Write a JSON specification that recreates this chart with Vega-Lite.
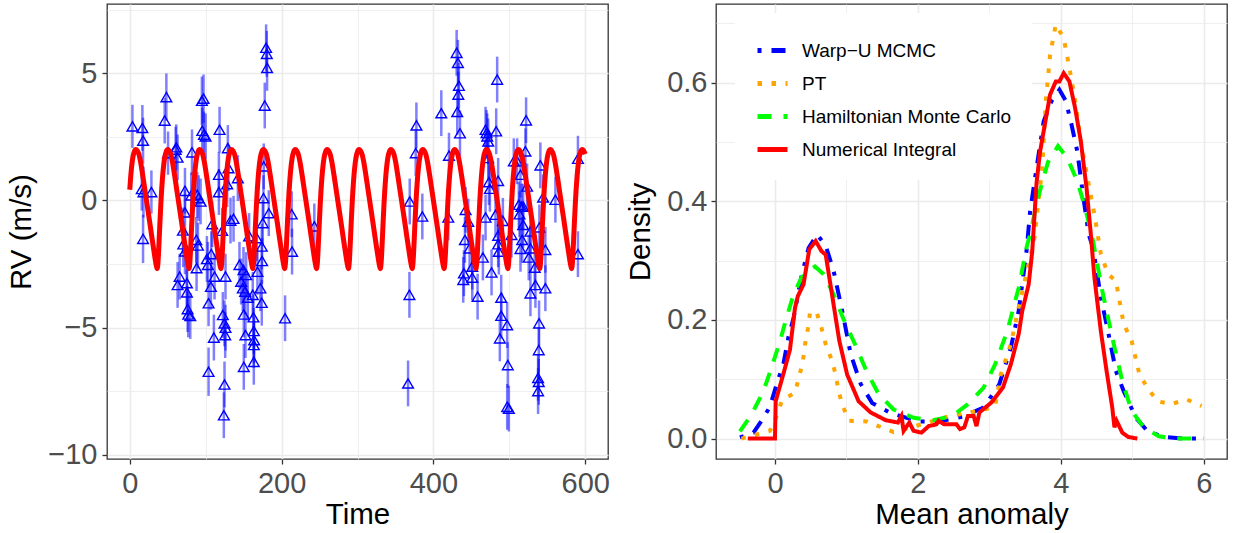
{
  "$schema": "https://vega.github.io/schema/vega-lite/v6.json",
  "padding": {"left": 6, "top": 3, "right": 5, "bottom": 3},
  "bounds": "flush",
  "spacing": 108,
  "config": {
    "font": "Liberation Sans",
    "view": {"stroke": "#333333", "strokeWidth": 1.3},
    "axis": {
      "domain": false,
      "grid": true,
      "gridColor": "#EBEBEB",
      "labelFont": "Liberation Sans",
      "titleFont": "Liberation Sans",
      "labelFontSize": 29,
      "titleFontSize": 29.5,
      "labelColor": "#4D4D4D",
      "titleColor": "#000000",
      "titleFontWeight": "normal",
      "tickColor": "#333333",
      "tickSize": 5,
      "tickWidth": 1.3,
      "labelOverlap": false,
      "labelFlush": false
    }
  },
  "datasets": {
    "pts": [
      {"t":3.5,"rv":2.91,"e":0.85},{"t":16.6,"rv":2.85,"e":0.9},{"t":17.5,"rv":2.35,"e":0.9},{"t":15.8,"rv":0.45,"e":0.85},
      {"t":18,"rv":0.33,"e":1.0},{"t":28.5,"rv":0.33,"e":0.85},{"t":17.5,"rv":-1.51,"e":0.95},{"t":48.2,"rv":4.06,"e":0.93},
      {"t":46,"rv":3.14,"e":0.9},{"t":50.4,"rv":1.86,"e":0.85},{"t":61.3,"rv":2.09,"e":0.9},{"t":60.4,"rv":2.0,"e":0.9},
      {"t":63,"rv":1.69,"e":0.9},{"t":82,"rv":1.89,"e":0.9},{"t":72.7,"rv":0.38,"e":0.9},{"t":72.7,"rv":-0.47,"e":0.9},
      {"t":70,"rv":-1.18,"e":0.9},{"t":70.5,"rv":-1.72,"e":0.9},{"t":72.7,"rv":-2.0,"e":0.9},{"t":65.7,"rv":-2.99,"e":0.9},
      {"t":63,"rv":-3.32,"e":0.9},{"t":75.3,"rv":-3.25,"e":0.9},{"t":75.3,"rv":-3.61,"e":0.9},{"t":76.2,"rv":-4.27,"e":0.9},
      {"t":77,"rv":-4.48,"e":0.9},{"t":79.7,"rv":-4.54,"e":0.9},{"t":81,"rv":0.2,"e":0.9},{"t":88.9,"rv":0.22,"e":0.9},
      {"t":90.7,"rv":0.09,"e":0.9},{"t":93.3,"rv":-0.04,"e":0.9},{"t":87.6,"rv":-1.55,"e":0.9},{"t":89.8,"rv":-1.77,"e":0.9},
      {"t":88,"rv":-2.66,"e":0.9},{"t":95,"rv":3.92,"e":0.95},{"t":97.2,"rv":4.0,"e":0.95},{"t":95.5,"rv":2.74,"e":0.9},
      {"t":97.7,"rv":2.59,"e":0.9},{"t":99.9,"rv":2.52,"e":0.9},{"t":118.3,"rv":2.78,"e":0.9},{"t":129.2,"rv":2.06,"e":0.9},
      {"t":130.1,"rv":1.27,"e":0.9},{"t":128.3,"rv":0.64,"e":0.9},{"t":117.4,"rv":1.01,"e":0.9},{"t":117.4,"rv":0.33,"e":0.9},
      {"t":142.4,"rv":0.88,"e":0.9},{"t":108.6,"rv":-0.93,"e":0.9},{"t":121.8,"rv":-1.19,"e":0.9},{"t":132.7,"rv":-0.79,"e":0.9},
      {"t":136.7,"rv":-0.72,"e":0.9},{"t":101.6,"rv":-2.3,"e":0.9},{"t":102.9,"rv":-2.53,"e":0.9},{"t":107.3,"rv":-2.11,"e":0.9},
      {"t":111.7,"rv":-2.99,"e":0.9},{"t":106.9,"rv":-3.39,"e":0.9},{"t":103.8,"rv":-4.04,"e":0.9},{"t":126.1,"rv":-2.99,"e":0.9},
      {"t":122.6,"rv":-4.5,"e":0.9},{"t":124.8,"rv":-4.83,"e":0.9},{"t":126.1,"rv":-5.0,"e":0.9},{"t":125.7,"rv":-5.29,"e":0.9},
      {"t":110.8,"rv":-5.39,"e":0.9},{"t":103.8,"rv":-6.73,"e":0.95},{"t":124.8,"rv":-7.23,"e":0.9},{"t":123.9,"rv":-8.44,"e":0.9},
      {"t":157.2,"rv":-1.4,"e":0.9},{"t":167.3,"rv":-1.48,"e":0.9},{"t":173.9,"rv":-1.81,"e":0.9},{"t":174.3,"rv":-2.38,"e":0.9},
      {"t":144.5,"rv":-2.53,"e":0.9},{"t":149.8,"rv":-2.73,"e":0.9},{"t":153.3,"rv":-2.93,"e":0.9},{"t":146.7,"rv":-3.19,"e":0.9},
      {"t":148.9,"rv":-3.45,"e":0.9},{"t":152,"rv":-3.58,"e":0.9},{"t":155.5,"rv":-3.82,"e":0.9},{"t":162,"rv":-3.71,"e":0.9},
      {"t":168.2,"rv":-2.8,"e":0.9},{"t":172.1,"rv":-3.45,"e":0.9},{"t":173.9,"rv":-4.02,"e":0.9},{"t":150.2,"rv":-4.48,"e":0.9},
      {"t":162.9,"rv":-4.59,"e":0.9},{"t":152.4,"rv":-5.29,"e":0.9},{"t":163.4,"rv":-5.13,"e":0.9},{"t":163.8,"rv":-5.49,"e":0.9},
      {"t":163.4,"rv":-5.68,"e":0.9},{"t":163.4,"rv":-6.34,"e":0.9},{"t":150.2,"rv":-6.54,"e":0.9},{"t":179.6,"rv":6.0,"e":0.92},
      {"t":180.5,"rv":5.76,"e":0.9},{"t":180.9,"rv":5.21,"e":0.9},{"t":177.8,"rv":3.73,"e":0.9},{"t":176.5,"rv":1.34,"e":0.9},
      {"t":176.1,"rv":0.09,"e":0.9},{"t":183.1,"rv":-0.5,"e":0.9},{"t":175.2,"rv":-0.89,"e":0.9},{"t":213.3,"rv":-0.54,"e":0.9},
      {"t":213.8,"rv":-2.01,"e":0.9},{"t":204.6,"rv":-4.63,"e":0.9},{"t":243.1,"rv":-1.02,"e":0.9},
      {"t":368.8,"rv":-0.04,"e":0.9},{"t":385.4,"rv":-0.63,"e":0.9},{"t":376.7,"rv":1.86,"e":0.9},{"t":377.6,"rv":2.95,"e":0.9},
      {"t":368.4,"rv":-3.71,"e":0.9},{"t":366.6,"rv":-7.19,"e":0.9},{"t":410.4,"rv":3.43,"e":0.9},{"t":420.5,"rv":1.76,"e":0.9},
      {"t":419.6,"rv":-0.67,"e":0.9},{"t":430.6,"rv":5.8,"e":0.9},{"t":432.3,"rv":5.41,"e":0.9},{"t":433.6,"rv":4.51,"e":0.9},
      {"t":432.8,"rv":4.16,"e":0.9},{"t":431.4,"rv":3.48,"e":0.9},{"t":435,"rv":2.64,"e":0.9},{"t":442.4,"rv":-0.37,"e":0.9},
      {"t":445.9,"rv":-0.83,"e":0.9},{"t":441.5,"rv":-1.55,"e":0.9},{"t":447.7,"rv":-1.88,"e":0.9},{"t":451.2,"rv":-2.6,"e":0.9},
      {"t":440.2,"rv":-2.86,"e":0.9},{"t":439.3,"rv":-3.12,"e":0.9},{"t":451.2,"rv":-3.03,"e":0.9},{"t":458.2,"rv":-3.78,"e":0.9},
      {"t":465.2,"rv":-2.24,"e":0.9},{"t":468.7,"rv":-0.67,"e":0.9},{"t":476.6,"rv":-2.83,"e":0.9},{"t":468.7,"rv":2.78,"e":0.9},
      {"t":470,"rv":2.65,"e":0.9},{"t":470.9,"rv":2.52,"e":0.9},{"t":472.2,"rv":2.32,"e":0.9},{"t":482.7,"rv":2.72,"e":0.9},
      {"t":484,"rv":4.75,"e":0.9},{"t":472.2,"rv":1.67,"e":0.9},{"t":473.1,"rv":0.72,"e":0.9},{"t":474.4,"rv":0.46,"e":0.9},
      {"t":485.3,"rv":0.77,"e":0.9},{"t":481.8,"rv":-0.56,"e":0.9},{"t":491.5,"rv":-0.8,"e":0.9},{"t":485.3,"rv":-1.38,"e":0.9},
      {"t":485.3,"rv":-1.72,"e":0.9},{"t":486.2,"rv":-2.01,"e":0.9},{"t":502.9,"rv":-1.35,"e":0.9},{"t":489.3,"rv":-3.82,"e":0.9},
      {"t":489.3,"rv":-4.53,"e":0.9},{"t":497.2,"rv":-4.9,"e":0.9},{"t":487.5,"rv":-5.42,"e":0.9},{"t":498,"rv":-6.47,"e":0.9},
      {"t":497.2,"rv":-8.11,"e":0.9},{"t":499.4,"rv":-8.18,"e":0.9},{"t":505.9,"rv":1.54,"e":0.9},{"t":510.3,"rv":1.54,"e":0.9},
      {"t":521.2,"rv":1.93,"e":0.9},{"t":522.1,"rv":3.15,"e":0.9},{"t":514.7,"rv":1.01,"e":0.9},{"t":523.4,"rv":0.55,"e":0.9},
      {"t":512.5,"rv":-0.17,"e":0.9},{"t":516,"rv":-0.24,"e":0.9},{"t":518.2,"rv":-0.24,"e":0.9},{"t":513.4,"rv":-0.54,"e":0.9},
      {"t":518.2,"rv":-0.96,"e":0.9},{"t":516.9,"rv":-1.55,"e":0.9},{"t":514.7,"rv":-1.9,"e":0.9},{"t":527.8,"rv":-1.22,"e":0.9},
      {"t":527.8,"rv":-1.88,"e":0.9},{"t":525.6,"rv":-2.24,"e":0.9},{"t":533.5,"rv":-2.64,"e":0.9},{"t":534.4,"rv":-3.32,"e":0.9},
      {"t":527.8,"rv":-3.65,"e":0.9},{"t":539.6,"rv":-1.06,"e":0.9},{"t":540.9,"rv":1.38,"e":0.9},{"t":544.5,"rv":0.12,"e":0.9},
      {"t":547.5,"rv":-1.94,"e":0.9},{"t":547.5,"rv":-3.45,"e":0.9},{"t":539.2,"rv":-4.83,"e":0.9},{"t":538.8,"rv":-5.88,"e":0.9},
      {"t":537.9,"rv":-6.97,"e":0.9},{"t":538.8,"rv":-7.13,"e":0.9},{"t":537.9,"rv":-7.49,"e":0.9},{"t":560.7,"rv":0.03,"e":0.9},
      {"t":590.4,"rv":1.64,"e":0.9},{"t":590.4,"rv":-2.11,"e":0.9}
    ],
    "curve": [
      {"t":0,"rv":0.42},{"t":1,"rv":0.85},{"t":2,"rv":1.2},{"t":4,"rv":1.68},{"t":6,"rv":1.92},
      {"t":8,"rv":2.0},{"t":10,"rv":1.95},{"t":12,"rv":1.82},{"t":14,"rv":1.55},{"t":17,"rv":1.0},{"t":20,"rv":0.4},{"t":23,"rv":-0.2},{"t":26,"rv":-0.8},{"t":29,"rv":-1.42},{"t":32,"rv":-2.02},{"t":34,"rv":-2.4},{"t":35,"rv":-2.57},{"t":36,"rv":-2.68},{"t":37,"rv":-2.5},{"t":38,"rv":-2.0},{"t":39,"rv":-1.35},{"t":40,"rv":-0.7},{"t":41,"rv":-0.1},{"t":42,"rv":0.42},{"t":43,"rv":0.85},{"t":44,"rv":1.2},{"t":46,"rv":1.68},{"t":48,"rv":1.92},
      {"t":50,"rv":2.0},{"t":52,"rv":1.95},{"t":54,"rv":1.82},{"t":56,"rv":1.55},{"t":59,"rv":1.0},{"t":62,"rv":0.4},{"t":65,"rv":-0.2},{"t":68,"rv":-0.8},{"t":71,"rv":-1.42},{"t":74,"rv":-2.02},{"t":76,"rv":-2.4},{"t":77,"rv":-2.57},{"t":78,"rv":-2.68},{"t":79,"rv":-2.5},{"t":80,"rv":-2.0},{"t":81,"rv":-1.35},{"t":82,"rv":-0.7},{"t":83,"rv":-0.1},{"t":84,"rv":0.42},{"t":85,"rv":0.85},{"t":86,"rv":1.2},{"t":88,"rv":1.68},{"t":90,"rv":1.92},
      {"t":92,"rv":2.0},{"t":94,"rv":1.95},{"t":96,"rv":1.82},{"t":98,"rv":1.55},{"t":101,"rv":1.0},{"t":104,"rv":0.4},{"t":107,"rv":-0.2},{"t":110,"rv":-0.8},{"t":113,"rv":-1.42},{"t":116,"rv":-2.02},{"t":118,"rv":-2.4},{"t":119,"rv":-2.57},{"t":120,"rv":-2.68},{"t":121,"rv":-2.5},{"t":122,"rv":-2.0},{"t":123,"rv":-1.35},{"t":124,"rv":-0.7},{"t":125,"rv":-0.1},{"t":126,"rv":0.42},{"t":127,"rv":0.85},{"t":128,"rv":1.2},{"t":130,"rv":1.68},{"t":132,"rv":1.92},
      {"t":134,"rv":2.0},{"t":136,"rv":1.95},{"t":138,"rv":1.82},{"t":140,"rv":1.55},{"t":143,"rv":1.0},{"t":146,"rv":0.4},{"t":149,"rv":-0.2},{"t":152,"rv":-0.8},{"t":155,"rv":-1.42},{"t":158,"rv":-2.02},{"t":160,"rv":-2.4},{"t":161,"rv":-2.57},{"t":162,"rv":-2.68},{"t":163,"rv":-2.5},{"t":164,"rv":-2.0},{"t":165,"rv":-1.35},{"t":166,"rv":-0.7},{"t":167,"rv":-0.1},{"t":168,"rv":0.42},{"t":169,"rv":0.85},{"t":170,"rv":1.2},{"t":172,"rv":1.68},{"t":174,"rv":1.92},
      {"t":176,"rv":2.0},{"t":178,"rv":1.95},{"t":180,"rv":1.82},{"t":182,"rv":1.55},{"t":185,"rv":1.0},{"t":188,"rv":0.4},{"t":191,"rv":-0.2},{"t":194,"rv":-0.8},{"t":197,"rv":-1.42},{"t":200,"rv":-2.02},{"t":202,"rv":-2.4},{"t":203,"rv":-2.57},{"t":204,"rv":-2.68},{"t":205,"rv":-2.5},{"t":206,"rv":-2.0},{"t":207,"rv":-1.35},{"t":208,"rv":-0.7},{"t":209,"rv":-0.1},{"t":210,"rv":0.42},{"t":211,"rv":0.85},{"t":212,"rv":1.2},{"t":214,"rv":1.68},{"t":216,"rv":1.92},
      {"t":218,"rv":2.0},{"t":220,"rv":1.95},{"t":222,"rv":1.82},{"t":224,"rv":1.55},{"t":227,"rv":1.0},{"t":230,"rv":0.4},{"t":233,"rv":-0.2},{"t":236,"rv":-0.8},{"t":239,"rv":-1.42},{"t":242,"rv":-2.02},{"t":244,"rv":-2.4},{"t":245,"rv":-2.57},{"t":246,"rv":-2.68},{"t":247,"rv":-2.5},{"t":248,"rv":-2.0},{"t":249,"rv":-1.35},{"t":250,"rv":-0.7},{"t":251,"rv":-0.1},{"t":252,"rv":0.42},{"t":253,"rv":0.85},{"t":254,"rv":1.2},{"t":256,"rv":1.68},{"t":258,"rv":1.92},
      {"t":260,"rv":2.0},{"t":262,"rv":1.95},{"t":264,"rv":1.82},{"t":266,"rv":1.55},{"t":269,"rv":1.0},{"t":272,"rv":0.4},{"t":275,"rv":-0.2},{"t":278,"rv":-0.8},{"t":281,"rv":-1.42},{"t":284,"rv":-2.02},{"t":286,"rv":-2.4},{"t":287,"rv":-2.57},{"t":288,"rv":-2.68},{"t":289,"rv":-2.5},{"t":290,"rv":-2.0},{"t":291,"rv":-1.35},{"t":292,"rv":-0.7},{"t":293,"rv":-0.1},{"t":294,"rv":0.42},{"t":295,"rv":0.85},{"t":296,"rv":1.2},{"t":298,"rv":1.68},{"t":300,"rv":1.92},
      {"t":302,"rv":2.0},{"t":304,"rv":1.95},{"t":306,"rv":1.82},{"t":308,"rv":1.55},{"t":311,"rv":1.0},{"t":314,"rv":0.4},{"t":317,"rv":-0.2},{"t":320,"rv":-0.8},{"t":323,"rv":-1.42},{"t":326,"rv":-2.02},{"t":328,"rv":-2.4},{"t":329,"rv":-2.57},{"t":330,"rv":-2.68},{"t":331,"rv":-2.5},{"t":332,"rv":-2.0},{"t":333,"rv":-1.35},{"t":334,"rv":-0.7},{"t":335,"rv":-0.1},{"t":336,"rv":0.42},{"t":337,"rv":0.85},{"t":338,"rv":1.2},{"t":340,"rv":1.68},{"t":342,"rv":1.92},
      {"t":344,"rv":2.0},{"t":346,"rv":1.95},{"t":348,"rv":1.82},{"t":350,"rv":1.55},{"t":353,"rv":1.0},{"t":356,"rv":0.4},{"t":359,"rv":-0.2},{"t":362,"rv":-0.8},{"t":365,"rv":-1.42},{"t":368,"rv":-2.02},{"t":370,"rv":-2.4},{"t":371,"rv":-2.57},{"t":372,"rv":-2.68},{"t":373,"rv":-2.5},{"t":374,"rv":-2.0},{"t":375,"rv":-1.35},{"t":376,"rv":-0.7},{"t":377,"rv":-0.1},{"t":378,"rv":0.42},{"t":379,"rv":0.85},{"t":380,"rv":1.2},{"t":382,"rv":1.68},{"t":384,"rv":1.92},
      {"t":386,"rv":2.0},{"t":388,"rv":1.95},{"t":390,"rv":1.82},{"t":392,"rv":1.55},{"t":395,"rv":1.0},{"t":398,"rv":0.4},{"t":401,"rv":-0.2},{"t":404,"rv":-0.8},{"t":407,"rv":-1.42},{"t":410,"rv":-2.02},{"t":412,"rv":-2.4},{"t":413,"rv":-2.57},{"t":414,"rv":-2.68},{"t":415,"rv":-2.5},{"t":416,"rv":-2.0},{"t":417,"rv":-1.35},{"t":418,"rv":-0.7},{"t":419,"rv":-0.1},{"t":420,"rv":0.42},{"t":421,"rv":0.85},{"t":422,"rv":1.2},{"t":424,"rv":1.68},{"t":426,"rv":1.92},
      {"t":428,"rv":2.0},{"t":430,"rv":1.95},{"t":432,"rv":1.82},{"t":434,"rv":1.55},{"t":437,"rv":1.0},{"t":440,"rv":0.4},{"t":443,"rv":-0.2},{"t":446,"rv":-0.8},{"t":449,"rv":-1.42},{"t":452,"rv":-2.02},{"t":454,"rv":-2.4},{"t":455,"rv":-2.57},{"t":456,"rv":-2.68},{"t":457,"rv":-2.5},{"t":458,"rv":-2.0},{"t":459,"rv":-1.35},{"t":460,"rv":-0.7},{"t":461,"rv":-0.1},{"t":462,"rv":0.42},{"t":463,"rv":0.85},{"t":464,"rv":1.2},{"t":466,"rv":1.68},{"t":468,"rv":1.92},
      {"t":470,"rv":2.0},{"t":472,"rv":1.95},{"t":474,"rv":1.82},{"t":476,"rv":1.55},{"t":479,"rv":1.0},{"t":482,"rv":0.4},{"t":485,"rv":-0.2},{"t":488,"rv":-0.8},{"t":491,"rv":-1.42},{"t":494,"rv":-2.02},{"t":496,"rv":-2.4},{"t":497,"rv":-2.57},{"t":498,"rv":-2.68},{"t":499,"rv":-2.5},{"t":500,"rv":-2.0},{"t":501,"rv":-1.35},{"t":502,"rv":-0.7},{"t":503,"rv":-0.1},{"t":504,"rv":0.42},{"t":505,"rv":0.85},{"t":506,"rv":1.2},{"t":508,"rv":1.68},{"t":510,"rv":1.92},
      {"t":512,"rv":2.0},{"t":514,"rv":1.95},{"t":516,"rv":1.82},{"t":518,"rv":1.55},{"t":521,"rv":1.0},{"t":524,"rv":0.4},{"t":527,"rv":-0.2},{"t":530,"rv":-0.8},{"t":533,"rv":-1.42},{"t":536,"rv":-2.02},{"t":538,"rv":-2.4},{"t":539,"rv":-2.57},{"t":540,"rv":-2.68},{"t":541,"rv":-2.5},{"t":542,"rv":-2.0},{"t":543,"rv":-1.35},{"t":544,"rv":-0.7},{"t":545,"rv":-0.1},{"t":546,"rv":0.42},{"t":547,"rv":0.85},{"t":548,"rv":1.2},{"t":550,"rv":1.68},{"t":552,"rv":1.92},
      {"t":554,"rv":2.0},{"t":556,"rv":1.95},{"t":558,"rv":1.82},{"t":560,"rv":1.55},{"t":563,"rv":1.0},{"t":566,"rv":0.4},{"t":569,"rv":-0.2},{"t":572,"rv":-0.8},{"t":575,"rv":-1.42},{"t":578,"rv":-2.02},{"t":580,"rv":-2.4},{"t":581,"rv":-2.57},{"t":582,"rv":-2.68},{"t":583,"rv":-2.5},{"t":584,"rv":-2.0},{"t":585,"rv":-1.35},{"t":586,"rv":-0.7},{"t":587,"rv":-0.1},{"t":588,"rv":0.42},{"t":589,"rv":0.85},{"t":590,"rv":1.2},{"t":592,"rv":1.68},{"t":594,"rv":1.92},
      {"t":596,"rv":2.0},{"t":598,"rv":1.95},{"t":600,"rv":1.82}
    ],
    "dens": [
      {"m":"Warp−U MCMC","x":-0.49,"d":0.002},{"m":"Warp−U MCMC","x":-0.3,"d":0.01},{"m":"Warp−U MCMC","x":-0.16,"d":0.035},{"m":"Warp−U MCMC","x":-0.07,"d":0.054},
      {"m":"Warp−U MCMC","x":0.02,"d":0.09},{"m":"Warp−U MCMC","x":0.12,"d":0.127},{"m":"Warp−U MCMC","x":0.19,"d":0.172},{"m":"Warp−U MCMC","x":0.26,"d":0.203},
      {"m":"Warp−U MCMC","x":0.37,"d":0.273},{"m":"Warp−U MCMC","x":0.47,"d":0.321},{"m":"Warp−U MCMC","x":0.59,"d":0.344},{"m":"Warp−U MCMC","x":0.71,"d":0.325},
      {"m":"Warp−U MCMC","x":0.82,"d":0.283},{"m":"Warp−U MCMC","x":0.95,"d":0.21},{"m":"Warp−U MCMC","x":1.06,"d":0.142},{"m":"Warp−U MCMC","x":1.2,"d":0.092},
      {"m":"Warp−U MCMC","x":1.36,"d":0.06},{"m":"Warp−U MCMC","x":1.62,"d":0.043},{"m":"Warp−U MCMC","x":2.01,"d":0.029},{"m":"Warp−U MCMC","x":2.29,"d":0.029},
      {"m":"Warp−U MCMC","x":2.63,"d":0.037},{"m":"Warp−U MCMC","x":2.91,"d":0.052},{"m":"Warp−U MCMC","x":3.06,"d":0.077},{"m":"Warp−U MCMC","x":3.14,"d":0.092},
      {"m":"Warp−U MCMC","x":3.3,"d":0.153},{"m":"Warp−U MCMC","x":3.41,"d":0.215},{"m":"Warp−U MCMC","x":3.52,"d":0.316},{"m":"Warp−U MCMC","x":3.57,"d":0.383},
      {"m":"Warp−U MCMC","x":3.66,"d":0.456},{"m":"Warp−U MCMC","x":3.76,"d":0.535},{"m":"Warp−U MCMC","x":3.87,"d":0.569},{"m":"Warp−U MCMC","x":3.98,"d":0.588},
      {"m":"Warp−U MCMC","x":4.07,"d":0.569},{"m":"Warp−U MCMC","x":4.15,"d":0.529},{"m":"Warp−U MCMC","x":4.23,"d":0.484},{"m":"Warp−U MCMC","x":4.31,"d":0.411},
      {"m":"Warp−U MCMC","x":4.39,"d":0.344},{"m":"Warp−U MCMC","x":4.45,"d":0.322},{"m":"Warp−U MCMC","x":4.56,"d":0.238},{"m":"Warp−U MCMC","x":4.66,"d":0.181},
      {"m":"Warp−U MCMC","x":4.77,"d":0.114},{"m":"Warp−U MCMC","x":4.88,"d":0.08},{"m":"Warp−U MCMC","x":5.05,"d":0.035},{"m":"Warp−U MCMC","x":5.21,"d":0.013},
      {"m":"Warp−U MCMC","x":5.43,"d":0.003},{"m":"Warp−U MCMC","x":5.7,"d":0},{"m":"Warp−U MCMC","x":6.0,"d":0},
      {"m":"PT","x":-0.47,"d":0},{"m":"PT","x":-0.07,"d":0.013},{"m":"PT","x":0.03,"d":0.04},{"m":"PT","x":0.1,"d":0.065},
      {"m":"PT","x":0.28,"d":0.077},{"m":"PT","x":0.34,"d":0.105},{"m":"PT","x":0.39,"d":0.13},{"m":"PT","x":0.42,"d":0.158},
      {"m":"PT","x":0.46,"d":0.185},{"m":"PT","x":0.49,"d":0.212},{"m":"PT","x":0.58,"d":0.214},{"m":"PT","x":0.65,"d":0.187},
      {"m":"PT","x":0.71,"d":0.159},{"m":"PT","x":0.79,"d":0.134},{"m":"PT","x":0.85,"d":0.108},{"m":"PT","x":0.89,"d":0.08},
      {"m":"PT","x":0.95,"d":0.054},{"m":"PT","x":1.04,"d":0.03},{"m":"PT","x":1.28,"d":0.029},{"m":"PT","x":1.66,"d":0.011},
      {"m":"PT","x":2.05,"d":0.024},{"m":"PT","x":2.44,"d":0.038},{"m":"PT","x":2.87,"d":0.047},{"m":"PT","x":3.08,"d":0.054},
      {"m":"PT","x":3.16,"d":0.108},{"m":"PT","x":3.3,"d":0.159},{"m":"PT","x":3.41,"d":0.221},{"m":"PT","x":3.55,"d":0.294},
      {"m":"PT","x":3.63,"d":0.338},{"m":"PT","x":3.74,"d":0.456},{"m":"PT","x":3.79,"d":0.569},{"m":"PT","x":3.85,"d":0.647},
      {"m":"PT","x":3.93,"d":0.698},{"m":"PT","x":4.04,"d":0.675},{"m":"PT","x":4.12,"d":0.625},{"m":"PT","x":4.2,"d":0.569},
      {"m":"PT","x":4.28,"d":0.501},{"m":"PT","x":4.39,"d":0.428},{"m":"PT","x":4.47,"d":0.378},{"m":"PT","x":4.53,"d":0.333},
      {"m":"PT","x":4.56,"d":0.311},{"m":"PT","x":4.66,"d":0.277},{"m":"PT","x":4.77,"d":0.266},{"m":"PT","x":4.88,"d":0.193},
      {"m":"PT","x":4.99,"d":0.165},{"m":"PT","x":5.1,"d":0.108},{"m":"PT","x":5.21,"d":0.086},{"m":"PT","x":5.35,"d":0.063},
      {"m":"PT","x":5.54,"d":0.058},{"m":"PT","x":5.76,"d":0.066},{"m":"PT","x":5.97,"d":0.055},
      {"m":"Hamiltonian Monte Carlo","x":-0.49,"d":0.012},{"m":"Hamiltonian Monte Carlo","x":-0.33,"d":0.04},{"m":"Hamiltonian Monte Carlo","x":-0.16,"d":0.08},
      {"m":"Hamiltonian Monte Carlo","x":-0.05,"d":0.119},{"m":"Hamiltonian Monte Carlo","x":0.07,"d":0.164},{"m":"Hamiltonian Monte Carlo","x":0.16,"d":0.203},
      {"m":"Hamiltonian Monte Carlo","x":0.26,"d":0.243},{"m":"Hamiltonian Monte Carlo","x":0.37,"d":0.271},{"m":"Hamiltonian Monte Carlo","x":0.49,"d":0.285},
      {"m":"Hamiltonian Monte Carlo","x":0.56,"d":0.29},{"m":"Hamiltonian Monte Carlo","x":0.68,"d":0.277},{"m":"Hamiltonian Monte Carlo","x":0.82,"d":0.243},
      {"m":"Hamiltonian Monte Carlo","x":0.95,"d":0.204},{"m":"Hamiltonian Monte Carlo","x":1.12,"d":0.159},{"m":"Hamiltonian Monte Carlo","x":1.28,"d":0.114},
      {"m":"Hamiltonian Monte Carlo","x":1.45,"d":0.075},{"m":"Hamiltonian Monte Carlo","x":1.66,"d":0.049},{"m":"Hamiltonian Monte Carlo","x":1.94,"d":0.035},
      {"m":"Hamiltonian Monte Carlo","x":2.21,"d":0.031},{"m":"Hamiltonian Monte Carlo","x":2.48,"d":0.038},{"m":"Hamiltonian Monte Carlo","x":2.7,"d":0.058},
      {"m":"Hamiltonian Monte Carlo","x":2.92,"d":0.086},{"m":"Hamiltonian Monte Carlo","x":3.08,"d":0.125},{"m":"Hamiltonian Monte Carlo","x":3.25,"d":0.181},
      {"m":"Hamiltonian Monte Carlo","x":3.41,"d":0.254},{"m":"Hamiltonian Monte Carlo","x":3.52,"d":0.322},{"m":"Hamiltonian Monte Carlo","x":3.57,"d":0.344},
      {"m":"Hamiltonian Monte Carlo","x":3.68,"d":0.406},{"m":"Hamiltonian Monte Carlo","x":3.82,"d":0.466},{"m":"Hamiltonian Monte Carlo","x":3.96,"d":0.493},
      {"m":"Hamiltonian Monte Carlo","x":4.09,"d":0.473},{"m":"Hamiltonian Monte Carlo","x":4.23,"d":0.434},{"m":"Hamiltonian Monte Carlo","x":4.34,"d":0.389},
      {"m":"Hamiltonian Monte Carlo","x":4.45,"d":0.333},{"m":"Hamiltonian Monte Carlo","x":4.58,"d":0.249},{"m":"Hamiltonian Monte Carlo","x":4.72,"d":0.17},
      {"m":"Hamiltonian Monte Carlo","x":4.86,"d":0.097},{"m":"Hamiltonian Monte Carlo","x":4.99,"d":0.047},{"m":"Hamiltonian Monte Carlo","x":5.16,"d":0.019},
      {"m":"Hamiltonian Monte Carlo","x":5.37,"d":0.004},{"m":"Hamiltonian Monte Carlo","x":5.6,"d":0},{"m":"Hamiltonian Monte Carlo","x":6.0,"d":0},
      {"m":"Numerical Integral","x":-0.38,"d":0},{"m":"Numerical Integral","x":0,"d":0},{"m":"Numerical Integral","x":0.01,"d":0.063},{"m":"Numerical Integral","x":0.12,"d":0.11},
      {"m":"Numerical Integral","x":0.21,"d":0.15},{"m":"Numerical Integral","x":0.28,"d":0.22},{"m":"Numerical Integral","x":0.32,"d":0.24},{"m":"Numerical Integral","x":0.4,"d":0.26},
      {"m":"Numerical Integral","x":0.48,"d":0.319},{"m":"Numerical Integral","x":0.57,"d":0.333},{"m":"Numerical Integral","x":0.65,"d":0.316},{"m":"Numerical Integral","x":0.71,"d":0.31},
      {"m":"Numerical Integral","x":0.79,"d":0.249},{"m":"Numerical Integral","x":0.9,"d":0.165},{"m":"Numerical Integral","x":1.01,"d":0.108},{"m":"Numerical Integral","x":1.17,"d":0.063},
      {"m":"Numerical Integral","x":1.34,"d":0.044},{"m":"Numerical Integral","x":1.55,"d":0.031},{"m":"Numerical Integral","x":1.72,"d":0.027},{"m":"Numerical Integral","x":1.77,"d":0.038},
      {"m":"Numerical Integral","x":1.8,"d":0.013},{"m":"Numerical Integral","x":1.88,"d":0.027},{"m":"Numerical Integral","x":1.94,"d":0.013},{"m":"Numerical Integral","x":2.05,"d":0.01},
      {"m":"Numerical Integral","x":2.15,"d":0.021},{"m":"Numerical Integral","x":2.26,"d":0.024},{"m":"Numerical Integral","x":2.29,"d":0.03},{"m":"Numerical Integral","x":2.37,"d":0.024},
      {"m":"Numerical Integral","x":2.54,"d":0.024},{"m":"Numerical Integral","x":2.59,"d":0.016},{"m":"Numerical Integral","x":2.65,"d":0.019},{"m":"Numerical Integral","x":2.7,"d":0.038},
      {"m":"Numerical Integral","x":2.78,"d":0.038},{"m":"Numerical Integral","x":2.82,"d":0.021},{"m":"Numerical Integral","x":2.86,"d":0.044},{"m":"Numerical Integral","x":3.03,"d":0.061},
      {"m":"Numerical Integral","x":3.19,"d":0.086},{"m":"Numerical Integral","x":3.3,"d":0.125},{"m":"Numerical Integral","x":3.41,"d":0.176},{"m":"Numerical Integral","x":3.46,"d":0.215},
      {"m":"Numerical Integral","x":3.55,"d":0.26},{"m":"Numerical Integral","x":3.6,"d":0.316},{"m":"Numerical Integral","x":3.66,"d":0.431},{"m":"Numerical Integral","x":3.71,"d":0.484},
      {"m":"Numerical Integral","x":3.85,"d":0.58},{"m":"Numerical Integral","x":3.93,"d":0.602},{"m":"Numerical Integral","x":3.98,"d":0.602},{"m":"Numerical Integral","x":4.04,"d":0.616},
      {"m":"Numerical Integral","x":4.12,"d":0.602},{"m":"Numerical Integral","x":4.2,"d":0.557},{"m":"Numerical Integral","x":4.28,"d":0.501},{"m":"Numerical Integral","x":4.36,"d":0.422},
      {"m":"Numerical Integral","x":4.42,"d":0.344},{"m":"Numerical Integral","x":4.47,"d":0.271},{"m":"Numerical Integral","x":4.56,"d":0.181},{"m":"Numerical Integral","x":4.64,"d":0.114},
      {"m":"Numerical Integral","x":4.72,"d":0.052},{"m":"Numerical Integral","x":4.75,"d":0.019},{"m":"Numerical Integral","x":4.78,"d":0.03},{"m":"Numerical Integral","x":4.86,"d":0.01},
      {"m":"Numerical Integral","x":4.94,"d":0.003},{"m":"Numerical Integral","x":5.07,"d":0}
    ]
  },
  "hconcat": [
    {
      "width": 501,
      "height": 455,
      "layer": [
        {
          "data": {"name": "pts"},
          "mark": {"type": "errorbar", "color": "#0000FF", "opacity": 0.5, "thickness": 2.5},
          "encoding": {
            "x": {"field": "t", "type": "quantitative", "title": "Time",
                  "scale": {"domain": [-30, 630], "nice": false, "zero": false},
                  "axis": {"values": [0, 100, 200, 300, 400, 500, 600], "format": "d",
                           "labelExpr": "datum.value % 200 === 0 ? datum.label : ''",
                           "labelFontSize": {"condition": {"test": "datum.value % 200 === 0", "value": 29}, "value": 0},
                           "tickOpacity": {"condition": {"test": "datum.value % 200 === 0", "value": 1}, "value": 0},
                           "gridWidth": {"condition": {"test": "datum.value % 200 === 0", "value": 1.6}, "value": 0.8},
                           "labelPadding": 5, "titlePadding": 2}},
            "y": {"field": "rv", "type": "quantitative", "title": "RV (m/s)",
                  "scale": {"domain": [-10.16, 7.72], "nice": false, "zero": false},
                  "axis": {"values": [-10, -7.5, -5, -2.5, 0, 2.5, 5, 7.5], "format": "d",
                           "labelExpr": "datum.value % 5 === 0 ? datum.label : ''",
                           "labelFontSize": {"condition": {"test": "datum.value % 5 === 0", "value": 29}, "value": 0},
                           "tickOpacity": {"condition": {"test": "datum.value % 5 === 0", "value": 1}, "value": 0},
                           "gridWidth": {"condition": {"test": "datum.value % 5 === 0", "value": 1.6}, "value": 0.8},
                           "labelPadding": 5, "titlePadding": 11}},
            "yError": {"field": "e"}
          }
        },
        {
          "data": {"name": "pts"},
          "mark": {"type": "point", "shape": "triangle-up", "filled": false, "color": "#0000FF", "size": 115, "strokeWidth": 1.4, "opacity": 1},
          "encoding": {
            "x": {"field": "t", "type": "quantitative", "title": "Time"},
            "y": {"field": "rv", "type": "quantitative", "title": "RV (m/s)"}
          }
        },
        {
          "data": {"name": "curve"},
          "mark": {"type": "line", "color": "#FF0000", "strokeWidth": 5, "interpolate": "monotone"},
          "encoding": {
            "x": {"field": "t", "type": "quantitative", "title": "Time"},
            "y": {"field": "rv", "type": "quantitative", "title": "RV (m/s)"}
          }
        }
      ]
    },
    {
      "width": 511,
      "height": 455,
      "data": {"name": "dens"},
      "mark": {"type": "line", "strokeWidth": 4},
      "encoding": {
        "x": {"field": "x", "type": "quantitative", "title": "Mean anomaly",
              "scale": {"domain": [-0.825, 6.325], "nice": false, "zero": false},
              "axis": {"values": [0, 1, 2, 3, 4, 5, 6], "format": "d",
                       "labelExpr": "datum.value % 2 === 0 ? datum.label : ''",
                       "labelFontSize": {"condition": {"test": "datum.value % 2 === 0", "value": 29}, "value": 0},
                       "tickOpacity": {"condition": {"test": "datum.value % 2 === 0", "value": 1}, "value": 0},
                       "gridWidth": {"condition": {"test": "datum.value % 2 === 0", "value": 1.6}, "value": 0.8},
                       "labelPadding": 5, "titlePadding": 2}},
        "y": {"field": "d", "type": "quantitative", "title": "Density",
              "scale": {"domain": [-0.0344, 0.7325], "nice": false, "zero": false},
              "axis": {"values": [0, 0.1, 0.2, 0.3, 0.4, 0.5, 0.6, 0.7], "format": ".1f",
                       "labelExpr": "round(datum.value * 10) % 2 === 0 ? datum.label : ''",
                       "labelFontSize": {"condition": {"test": "round(datum.value * 10) % 2 === 0", "value": 29}, "value": 0},
                       "tickOpacity": {"condition": {"test": "round(datum.value * 10) % 2 === 0", "value": 1}, "value": 0},
                       "gridWidth": {"condition": {"test": "round(datum.value * 10) % 2 === 0", "value": 1.6}, "value": 0.8},
                       "labelPadding": 4, "titlePadding": 11}},
        "color": {"field": "m", "type": "nominal",
                  "scale": {"domain": ["Warp−U MCMC", "PT", "Hamiltonian Monte Carlo", "Numerical Integral"],
                            "range": ["#0000FF", "#FFA500", "#00FF00", "#FF0000"]},
                  "legend": {"title": null, "orient": "none", "legendX": 628, "legendY": 9, "fillColor": "#FFFFFF",
                             "padding": 20, "symbolSize": 900, "symbolStrokeWidth": 5, "symbolType": "stroke",
                             "labelFontSize": 19, "labelColor": "#000000", "labelOffset": 12, "rowPadding": 5, "labelLimit": 400}},
        "strokeDash": {"field": "m", "type": "nominal",
                  "scale": {"domain": ["Warp−U MCMC", "PT", "Hamiltonian Monte Carlo", "Numerical Integral"],
                            "range": [[4, 10, 14, 10], [4.5, 9.5], [14, 12], [1, 0]]},
                  "legend": {"title": null, "orient": "none", "legendX": 628, "legendY": 9, "fillColor": "#FFFFFF",
                             "padding": 20, "symbolSize": 900, "symbolStrokeWidth": 5, "symbolType": "stroke",
                             "labelFontSize": 19, "labelColor": "#000000", "labelOffset": 12, "rowPadding": 5, "labelLimit": 400}}
      }
    }
  ]
}
